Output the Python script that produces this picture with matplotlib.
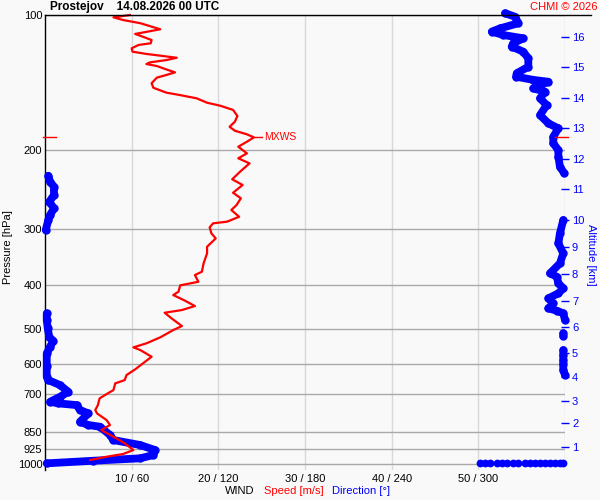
import numpy as np
import matplotlib
matplotlib.use('Agg')
import matplotlib.pyplot as plt
from matplotlib.lines import Line2D
from matplotlib.ticker import NullLocator, NullFormatter

plt.rcParams['font.family'] = ['Liberation Sans', 'DejaVu Sans']

# ---------------- data ----------------
speed_ms = [9.8, 7.9, 9.0, 11.0, 13.3, 10.4, 11.3, 12.3, 12.2, 10.8,
            10.0, 10.1, 11.7, 13.6, 15.2, 14.0, 12.1, 11.7, 12.9, 14.2,
            15.0, 14.0, 12.9, 12.3, 12.5, 14.0, 15.6, 17.5, 18.7, 20.2,
            21.7, 22.2, 21.9, 21.3, 21.9, 23.3, 24.1, 23.3, 22.3, 23.3,
            22.3, 23.6, 22.5, 21.6, 22.8, 21.7, 22.6, 22.1, 21.5, 22.4,
            21.0, 19.4, 19.0, 19.2, 19.7, 18.7, 18.7, 18.3, 18.1, 17.3,
            17.7, 15.6, 15.4, 14.8, 16.0, 17.3, 15.8, 13.8, 14.6, 15.8,
            14.8, 13.3, 11.7, 10.2, 11.0, 12.3, 11.3, 10.4, 9.4, 9.2,
            8.1, 7.9, 7.1, 6.3, 6.1, 5.8, 6.0, 7.1, 7.5, 6.5,
            7.9, 9.2, 10.2, 9.0, 7.1, 5.2]
speed_p = [100, 101.2, 102.6, 104.3, 107.6, 110.2, 111.8, 113.7, 115.6, 116.6,
           118.6, 120.7, 122.1, 123.4, 124.5, 126.0, 127.5, 128.6, 129.9, 132.6,
           134.2, 136.0, 137.9, 141.9, 145.2, 148.9, 150.8, 153.3, 156.8, 159.2,
           162.7, 167.9, 172.9, 177.4, 181.0, 184.4, 187.3, 191.5, 196.5, 203.3,
           208.5, 214.0, 223.4, 232.2, 239.1, 248.8, 256.0, 265.0, 271.8, 281.4,
           288.6, 291.0, 297.1, 306.4, 314.4, 328.1, 339.4, 357.3, 373.0, 379.4,
           392.7, 400.0, 413.3, 420.4, 431.3, 444.7, 454.0, 460.3, 473.7, 492.8,
           503.0, 522.2, 538.5, 549.7, 557.4, 576.8, 596.8, 615.4, 633.8, 650.1,
           661.3, 684.3, 698.6, 714.2, 739.2, 758.1, 771.2, 798.0, 818.7, 840.0,
           869.2, 899.1, 930.7, 950.0, 963.3, 979.7]

# wind direction, split where it wraps around 0/360
dir_top = [318.5, 325.4, 327.7, 315.0, 309.3, 317.3, 331.1, 324.2, 323.1, 331.1,
           334.6, 334.6, 326.6, 326.1, 338.1, 348.5, 338.1, 346.2, 342.7, 347.3,
           342.7, 348.5, 355.4, 351.9, 351.9, 355.4, 355.4, 356.5, 359.5]
p_top = [99.1, 100.9, 104.3, 107.1, 108.9, 110.8, 112.7, 115.6, 117.6, 120.7,
         124.9, 130.4, 134.8, 137.2, 139.5, 140.8, 145.7, 148.2, 153.3, 158.7,
         167.1, 174.3, 178.8, 186.7, 193.1, 200.0, 206.8, 217.7, 225.3]

dir_left = [2.3, 3.5, 6.2, 6.2, 3.0, 6.2, 3.5, 2.3, 0.5]
p_left = [228.0, 235.1, 241.2, 251.7, 260.6, 269.5, 278.9, 286.1, 301.2]

nan = np.nan
dir_right = [358.8, 356.5, 355.4, 358.8, 356.5, 349.6, 354.3, 355.4, 358.8, 355.4,
             348.5, 351.9, 348.5, 354.3, 358.8, 360.0, nan, 358.8, 358.8, nan,
             358.8, 358.8, 358.8, 358.8, 358.8, 360.0]
p_right = [286.1, 306.4, 322.5, 339.4, 357.3, 376.1, 382.7, 395.9, 406.2, 416.7,
           427.5, 438.6, 450.0, 455.6, 461.7, 478.0, nan, 511.7, 518.8, nan,
           557.4, 571.8, 586.7, 600.0, 617.6, 633.8]

dir_low = [1.2, 1.2, 1.9, 3.0, 5.7, 3.5, 1.2, 1.2, 1.2, 2.3,
           10.4, 16.1, 10.4, 3.5, 9.2, 21.9, 24.2, 30.0, 24.2, 30.0,
           38.1, 45.0, 47.3, 65.8, 76.2, 75.0, 65.8, 33.4, 1.2]
p_low = [461.7, 478.0, 498.7, 522.2, 531.3, 548.0, 566.9, 605.1, 639.3, 650.1,
         667.1, 690.4, 708.3, 726.7, 732.6, 739.2, 758.1, 771.2, 805.1, 818.7,
         825.9, 861.6, 884.2, 907.0, 930.7, 954.9, 971.2, 983.2, 996.4]

dir_sfc = [301.2, 304.6, 308.1, 312.7, 316.2, 319.6, 324.2, 327.7, 332.3, 335.8,
           339.2, 342.7, 346.2, 349.6, 353.1, 356.5, 358.8]
p_sfc = 996.4

p_ticks = [100, 200, 300, 400, 500, 600, 700, 850, 925, 1000]
dir_ticks = [60, 120, 180, 240, 300]
dir_tick_labels = ['10 / 60', '20 / 120', '30 / 180', '40 / 240', '50 / 300']
alt_km = list(range(1, 17))
alt_p = [916.6, 810.6, 723.7, 640.0, 565.9, 495.3, 433.5, 377.5, 328.6, 286.1,
         244.1, 209.3, 178.5, 153.0, 130.5, 111.9]
mxws_speed = 24.1
mxws_p = 187.3

# ---------------- figure ----------------
W, H = 600, 500
bg = '#f9f9f9'
fig = plt.figure(figsize=(6, 5), dpi=100, facecolor=bg)
ax = fig.add_axes([45 / W, 1 - 470 / H, 520 / W, 455 / H])
ax.set_facecolor(bg)
PBOT = 1031.0

ax.set_yscale('log')
ax.set_ylim(PBOT, 100)
ax.set_xlim(0, 360)
ax.set_yticks(p_ticks)
ax.set_yticklabels([str(p) for p in p_ticks])
ax.yaxis.set_minor_locator(NullLocator())
ax.yaxis.set_minor_formatter(NullFormatter())
ax.set_xticks(dir_ticks)
ax.set_xticklabels(dir_tick_labels)
ax.tick_params(axis='both', length=0, labelsize=8, colors='black')
ax.tick_params(axis='y', pad=2)
ax.tick_params(axis='x', pad=3)
ax.set_axisbelow(True)
ax.grid(axis='y', color='#a9a9a9', lw=1.0)
for d in dir_ticks + [360]:
    ax.axvline(d, color='#d9d9d9', lw=1.0, zorder=0.5)
for s in ['right', 'bottom', 'top']:
    ax.spines[s].set_visible(False)
ax.spines['left'].set_color('black')
ax.spines['left'].set_linewidth(1.0)

blue = '#0000ff'
kw = dict(color=blue, lw=5.6, solid_capstyle='round', solid_joinstyle='round',
          marker='o', ms=5.0, mec=blue, mfc=blue, clip_on=False, zorder=3)
ax.plot(dir_top, p_top, **kw)
ax.plot(dir_left, p_left, **kw)
ax.plot(dir_right, p_right, **kw)
ax.plot(dir_low, p_low, **kw)
ax.plot(dir_sfc, [p_sfc] * len(dir_sfc), ls='none', marker='o', ms=4.6,
        color=blue, clip_on=False, zorder=3)

# MXWS marks on the frame edges
yt = ax.get_yaxis_transform()
ax.plot([-0.004, 0.021], [mxws_p, mxws_p], color='red', lw=1, transform=yt, clip_on=False, zorder=4)
ax.plot([0.981, 1.006], [mxws_p, mxws_p], color='red', lw=1, transform=yt, clip_on=False, zorder=4)

# speed axis
axs = ax.twiny()
axs.set_xlim(0, 60)
axs.set_ylim(PBOT, 100)
axs.set_xticks([])
for s in axs.spines.values():
    s.set_visible(False)
axs.plot(speed_ms, speed_p, color='red', lw=1.6, zorder=5, clip_on=False)
axs.plot([mxws_speed, mxws_speed + 0.95], [mxws_p, mxws_p], color='red', lw=1)
axs.text(mxws_speed + 1.2, mxws_p, 'MXWS', color='red', fontsize=7.5, va='center', ha='left')

# altitude axis
axa = ax.twinx()
axa.set_yscale('log')
axa.set_ylim(PBOT, 100)
axa.set_yticks(alt_p)
axa.set_yticklabels([str(a) for a in alt_km])
axa.yaxis.set_minor_locator(NullLocator())
axa.yaxis.set_minor_formatter(NullFormatter())
axa.tick_params(axis='y', direction='inout', length=6, width=1, colors=blue,
                labelsize=8, pad=2)
for s in axa.spines.values():
    s.set_visible(False)

# frame line on top
fig.add_artist(Line2D([45 / W, 591 / W], [1 - 15 / H] * 2, color='black', lw=1))

# texts
fig.text(50 / W, 1 - 7 / H, 'Prostejov    14.08.2026 00 UTC', fontsize=8.5,
         fontweight='bold', va='center', ha='left')
fig.text(597 / W, 1 - 7 / H, 'CHMI \u00a9 2026', fontsize=8, color='red',
         va='center', ha='right')
fig.text(8 / W, 1 - 247 / H, 'Pressure [hPa]', rotation=90, fontsize=8,
         va='center', ha='center')
fig.text(591 / W, 1 - 255 / H, 'Altitude [km]', rotation=270, fontsize=8,
         color=blue, va='center', ha='center')
yb = 1 - 491 / H
fig.text(225 / W, yb, 'WIND', fontsize=8, va='center', ha='left')
fig.text(264 / W, yb, 'Speed [m/s]', fontsize=8, color='red', va='center', ha='left')
fig.text(332 / W, yb, 'Direction [\u00b0]', fontsize=8, color=blue, va='center', ha='left')

fig.savefig('out.png', dpi=100, facecolor=bg)
